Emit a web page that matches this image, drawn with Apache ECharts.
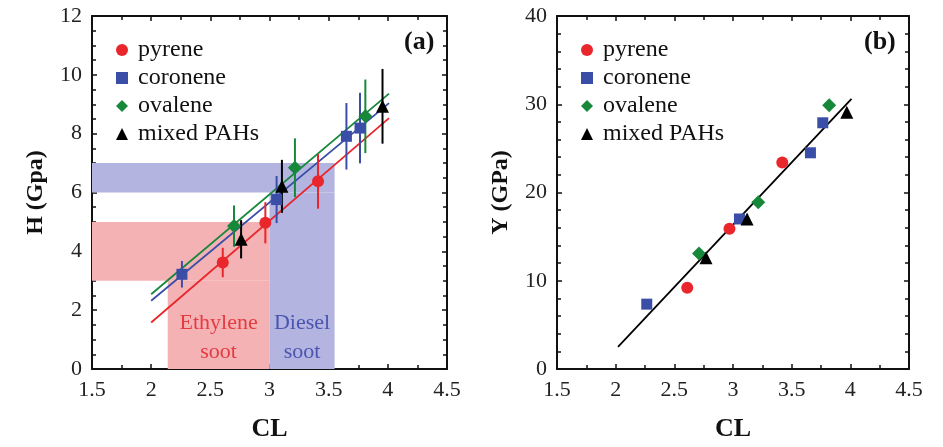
<!DOCTYPE html>
<html>
<head>
    <meta charset="utf-8">
    <title>H and Y vs CL</title>
    <style>
        *{ margin: 0; padding: 0; box-sizing: border-box; }
        html, body, #chart{ width:100%; height:100%; overflow:hidden; background:#fff; }
    </style>
</head>
<body>
    <div id="chart"></div>
    <script src="https://cdn.jsdelivr.net/npm/echarts@6/dist/echarts.min.js"></script>
    <script>
        // panel (a): [CL, H, error]
        var pyreneA   = [[2.605, 3.62, 0.5], [2.965, 4.97, 0.7], [3.41, 6.38, 0.93]];
        var coroneneA = [[2.26, 3.22, 0.45], [3.06, 5.76, 0.8], [3.65, 7.91, 1.13], [3.765, 8.19, 1.2]];
        var ovaleneA  = [[2.70, 4.86, 0.7], [3.215, 6.84, 1.0], [3.81, 8.59, 1.25]];
        var mixedA    = [[2.76, 4.41, 0.65], [3.105, 6.21, 0.9], [3.955, 8.93, 1.27]];
        // fitted lines in (a)
        var fitRedA   = [[2.0, 1.58], [4.01, 8.53]];
        var fitBlueA  = [[2.0, 2.32], [4.01, 9.04]];
        var fitGreenA = [[2.0, 2.54], [4.01, 9.36]];
        // shaded soot ranges: [x1, y1, x2, y2]
        var ethyleneBands = [[1.5, 3, 3.0, 5], [2.14, 0, 3.0, 3]];
        var dieselBands   = [[1.5, 6, 3.55, 7], [3.0, 0, 3.55, 6]];

        // panel (b): [CL, Y]
        var pyreneB   = [[2.61, 9.2], [2.97, 15.9], [3.42, 23.4]];
        var coroneneB = [[2.265, 7.35], [3.055, 17.0], [3.66, 24.5], [3.765, 27.9]];
        var ovaleneB  = [[2.71, 13.1], [3.215, 18.9], [3.82, 29.9]];
        var mixedB    = [[2.77, 12.6], [3.12, 17.0], [3.97, 29.1]];
        var fitB      = [[2.02, 2.5], [4.01, 30.6]];

        var names = ['pyrene', 'coronene', 'ovalene', 'mixed PAHs'];
        var xTicks = [1.5, 4.5, 0.5];

        var serif = 'Liberation Serif';
        var red = '#e8262c', blue = '#3a4ea8', green = '#17883a', black = '#000';

        var myChart = echarts.init(document.getElementById('chart'));

        function xAx(grid, pos) {
            var bottom = pos === 'bottom';
            return {
                type: 'value', gridIndex: grid, position: pos,
                min: xTicks[0], max: xTicks[1], interval: xTicks[2],
                name: bottom ? 'CL' : '', nameLocation: 'middle', nameGap: 47,
                nameTextStyle: { fontFamily: serif, fontSize: 26, fontWeight: 'bold', color: '#111' },
                axisLine: { show: true, onZero: false, lineStyle: { color: '#111', width: 2 } },
                axisTick: { show: true, inside: true, length: 5, lineStyle: { color: '#111', width: 1.5 } },
                minorTick: { show: true, splitNumber: 2, length: 4, lineStyle: { color: '#111', width: 1.5 } },
                axisLabel: { show: bottom, margin: 10, fontFamily: serif, fontSize: 22, color: '#222' },
                splitLine: { show: false }
            };
        }
        function yAx(grid, pos, max, interval, split, name) {
            var left = pos === 'left';
            return {
                type: 'value', gridIndex: grid, position: pos,
                min: 0, max: max, interval: interval,
                name: left ? name : '', nameLocation: 'middle', nameGap: 44,
                nameTextStyle: { fontFamily: serif, fontSize: 24, fontWeight: 'bold', color: '#111' },
                axisLine: { show: true, onZero: false, lineStyle: { color: '#111', width: 2 } },
                axisTick: { show: true, inside: true, length: 5, lineStyle: { color: '#111', width: 1.5 } },
                minorTick: { show: true, splitNumber: split, length: 4, lineStyle: { color: '#111', width: 1.5 } },
                axisLabel: { show: left, margin: 10, fontFamily: serif, fontSize: 22, color: '#222' },
                splitLine: { show: false }
            };
        }

        function errorBar(params, api) {
            var x = api.value(0), y = api.value(1), e = api.value(2);
            var p1 = api.coord([x, y - e]);
            var p2 = api.coord([x, y + e]);
            return {
                type: 'line',
                shape: { x1: p1[0], y1: p1[1], x2: p2[0], y2: p2[1] },
                style: { stroke: api.visual('color'), lineWidth: 2 }
            };
        }

        function bandData(bands) {
            return bands.map(function (b) {
                return [{ coord: [b[0], b[1]] }, { coord: [b[2], b[3]] }];
            });
        }

        var sym = [
            { symbol: 'circle', size: 12, color: red },
            { symbol: 'rect', size: 11, color: blue },
            { symbol: 'diamond', size: 14, color: green },
            { symbol: 'triangle', size: 13, color: black }
        ];

        function scatter(i, data, ax) {
            return {
                name: names[i], type: 'scatter',
                xAxisIndex: ax, yAxisIndex: ax,
                data: data.map(function (d) { return [d[0], d[1]]; }),
                symbol: sym[i].symbol, symbolSize: sym[i].size,
                itemStyle: { color: sym[i].color, opacity: 1 },
                z: 5
            };
        }
        function errors(i, data) {
            return {
                name: names[i] + ' err', type: 'custom',
                xAxisIndex: 0, yAxisIndex: 0,
                renderItem: errorBar, data: data,
                encode: { x: 0, y: 1 },
                itemStyle: { color: sym[i].color },
                z: 4
            };
        }
        function fit(name, data, color, ax) {
            return {
                name: name, type: 'line', xAxisIndex: ax, yAxisIndex: ax,
                data: data, symbol: 'none',
                lineStyle: { color: color, width: 1.8 },
                z: 3
            };
        }
        function legend(left) {
            return {
                data: names, orient: 'vertical', left: left, top: 33,
                itemGap: 4, itemWidth: 12, itemHeight: 12,
                textStyle: { fontFamily: serif, fontSize: 24, color: '#111', padding: [0, 0, 0, 5] },
                selectedMode: false
            };
        }

        var bandLabel = {
            show: true, position: 'insideBottom', distance: 2,
            fontFamily: serif, fontSize: 22, lineHeight: 29
        };

        var option = {
            animation: false,
            grid: [
                { left: 92, top: 16, width: 355, height: 354 },
                { left: 557, top: 16, width: 352, height: 354 }
            ],
            xAxis: [xAx(0, 'bottom'), xAx(1, 'bottom'), xAx(0, 'top'), xAx(1, 'top')],
            yAxis: [
                yAx(0, 'left', 12, 2, 4, 'H (Gpa)'),
                yAx(1, 'left', 40, 10, 5, 'Y (GPa)'),
                yAx(0, 'right', 12, 2, 4, ''),
                yAx(1, 'right', 40, 10, 5, '')
            ],
            legend: [legend(111), legend(576)],
            graphic: [
                { type: 'text', left: 404, top: 29, style: { text: '(a)', font: 'bold 26px "Liberation Serif"', fill: '#111' } },
                { type: 'text', left: 864, top: 29, style: { text: '(b)', font: 'bold 26px "Liberation Serif"', fill: '#111' } }
            ],
            series: [
                {
                    name: 'ethylene band', type: 'line', xAxisIndex: 0, yAxisIndex: 0, data: [], z: 1,
                    markArea: {
                        silent: true,
                        itemStyle: { color: '#f5b2b4' },
                        label: Object.assign({}, bandLabel, { formatter: function (p) { return p.dataIndex === 1 ? 'Ethylene\nsoot' : ''; }, color: '#e23b40' }),
                        data: bandData(ethyleneBands)
                    }
                },
                {
                    name: 'diesel band', type: 'line', xAxisIndex: 0, yAxisIndex: 0, data: [], z: 1,
                    markArea: {
                        silent: true,
                        itemStyle: { color: '#b3b4e0' },
                        label: Object.assign({}, bandLabel, { formatter: function (p) { return p.dataIndex === 1 ? 'Diesel\nsoot' : ''; }, color: '#4a55b0' }),
                        data: bandData(dieselBands)
                    }
                },
                fit('fit red', fitRedA, red, 0),
                fit('fit blue', fitBlueA, blue, 0),
                fit('fit green', fitGreenA, green, 0),
                errors(0, pyreneA), errors(1, coroneneA), errors(2, ovaleneA), errors(3, mixedA),
                scatter(0, pyreneA, 0), scatter(1, coroneneA, 0), scatter(2, ovaleneA, 0), scatter(3, mixedA, 0),
                fit('fit b', fitB, black, 1),
                scatter(0, pyreneB, 1), scatter(1, coroneneB, 1), scatter(2, ovaleneB, 1), scatter(3, mixedB, 1)
            ]
        };

        myChart.setOption(option, true);
    </script>
</body>
</html>
